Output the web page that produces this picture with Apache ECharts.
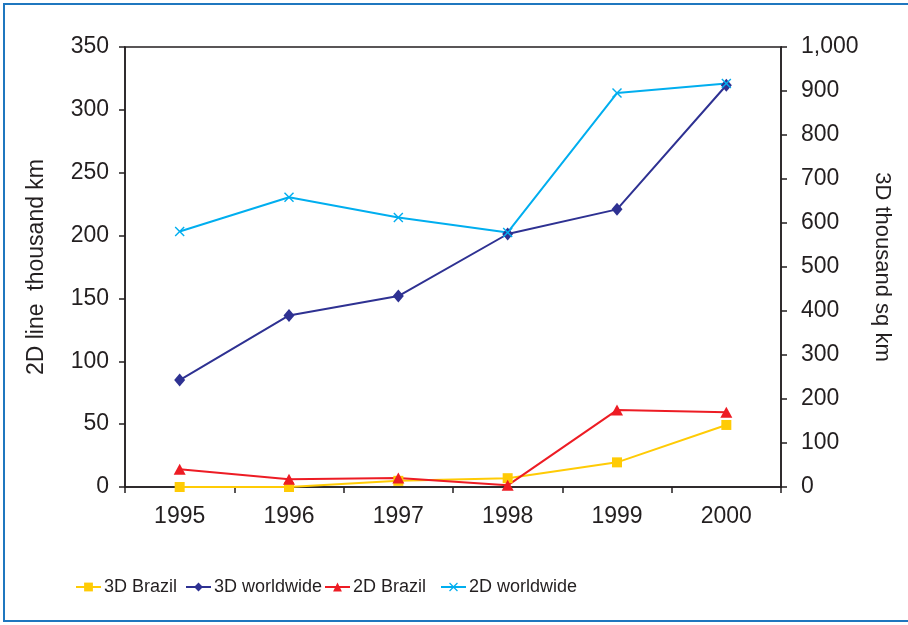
<!DOCTYPE html>
<html>
<head>
<meta charset="utf-8">
<script src="https://cdn.jsdelivr.net/npm/echarts@6/dist/echarts.min.js"></script>
<style>
  html, body { margin: 0; padding: 0; background: #fff; }
  #chart { width: 908px; height: 625px; }
</style>
</head>
<body>
<div id="chart"></div>
<script>
// data
var years = ['1995', '1996', '1997', '1998', '1999', '2000']
var brazil3d = [0, 0, 14, 20, 56, 141]        // right axis, thousand sq km
var world3d = [243, 390, 434, 575, 631, 913]  // right axis
var brazil2d = [14.1, 6.1, 7.2, 1.3, 61.2, 59.4]      // left axis, thousand km
var world2d = [203.3, 230.5, 214.4, 202.5, 313.4, 320.9] // left axis

var font = 'Liberation Sans, Arial, sans-serif'
var ink = '#231f20'
var crossPath = 'path://M0,1 L1,0 L5,4 L9,0 L10,1 L6,5 L10,9 L9,10 L5,6 L1,10 L0,9 L4,5 Z'

function legendAt(name, left) {
  return {
    data: [name],
    left: left,
    top: 578,
    padding: 0,
    itemWidth: 25,
    itemHeight: 11,
    itemGap: 0,
    textStyle: { fontFamily: font, fontSize: 18, color: ink, padding: [0, 0, 0, -2] }
  }
}

var chart = echarts.init(document.getElementById('chart'))
chart.setOption({
  animation: false,
  graphic: [{
    type: 'rect',
    shape: { x: 4, y: 4, width: 930, height: 617 },
    style: { fill: 'none', stroke: '#1f77bf', lineWidth: 2 },
    silent: true
  }],
  grid: {
    left: 125, right: 127, top: 47, bottom: 138,
    show: true, borderColor: ink, borderWidth: 1.5
  },
  legend: [
    legendAt('3D Brazil', 75),
    legendAt('3D worldwide', 185),
    legendAt('2D Brazil', 324),
    legendAt('2D worldwide', 440)
  ],
  xAxis: {
    type: 'category',
    data: years,
    boundaryGap: true,
    axisLine: { lineStyle: { color: ink, width: 1.5 } },
    axisTick: { show: true, length: 6, lineStyle: { color: ink, width: 1.5 } },
    axisLabel: { fontFamily: font, fontSize: 23, color: ink, margin: 18 }
  },
  yAxis: [
    {
      type: 'value', position: 'left', min: 0, max: 350, interval: 50,
      name: '2D line  thousand km', nameLocation: 'middle', nameGap: 77,
      nameTextStyle: { fontFamily: font, fontSize: 23, color: ink },
      axisLine: { show: true, lineStyle: { color: ink, width: 1.5 } },
      axisTick: { show: true, length: 6, lineStyle: { color: ink, width: 1.5 } },
      axisLabel: { fontFamily: font, fontSize: 23, color: ink, margin: 16 },
      splitLine: { show: false }
    },
    {
      type: 'value', position: 'right', min: 0, max: 1000, interval: 100,
      name: '3D thousand sq km', nameLocation: 'middle', nameGap: 90, nameRotate: -90,
      nameTextStyle: { fontFamily: font, fontSize: 22, color: ink },
      axisLine: { show: true, lineStyle: { color: ink, width: 1.5 } },
      axisTick: { show: true, length: 6, lineStyle: { color: ink, width: 1.5 } },
      axisLabel: {
        fontFamily: font, fontSize: 23, color: ink, margin: 20,
        formatter: function (v) { return v.toLocaleString('en-US') }
      },
      splitLine: { show: false }
    }
  ],
  series: [
    {
      name: '3D Brazil', type: 'line', yAxisIndex: 1, data: brazil3d,
      symbol: 'rect', symbolSize: 10,
      lineStyle: { color: '#ffcb05', width: 2 },
      itemStyle: { color: '#ffcb05' }
    },
    {
      name: '3D worldwide', type: 'line', yAxisIndex: 1, data: world3d,
      symbol: 'diamond', symbolSize: [11, 13],
      lineStyle: { color: '#2e3192', width: 2 },
      itemStyle: { color: '#2e3192' }
    },
    {
      name: '2D Brazil', type: 'line', yAxisIndex: 0, data: brazil2d,
      symbol: 'triangle', symbolSize: [12, 11],
      lineStyle: { color: '#ed1c24', width: 2 },
      itemStyle: { color: '#ed1c24' }
    },
    {
      name: '2D worldwide', type: 'line', yAxisIndex: 0, data: world2d,
      symbol: crossPath, symbolSize: 10,
      lineStyle: { color: '#00aeef', width: 2 },
      itemStyle: { color: '#00aeef' }
    }
  ]
})
</script>
</body>
</html>
